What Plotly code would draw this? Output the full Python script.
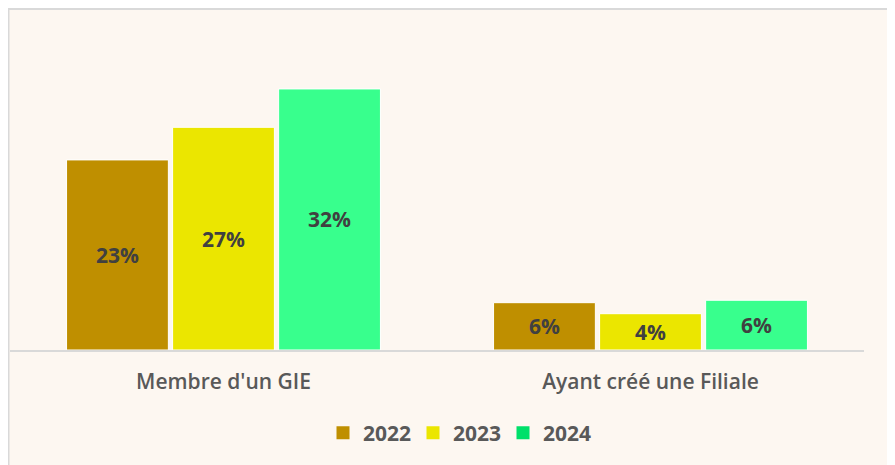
import plotly.graph_objects as go

categories = ["Membre d'un GIE", "Ayant créé une Filiale"]
years = ["2022", "2023", "2024"]
values_2022 = [23.3, 5.8]
values_2023 = [27.3, 4.45]
values_2024 = [32.0, 6.1]
bar_colors = ["#BF8F00", "#EBE600", "#38FF8D"]
legend_colors = ["#BF8F00", "#EBE600", "#00E06A"]

series = [values_2022, values_2023, values_2024]

FONT = "Open Sans"
W, H = 887, 457
L, R, T, B = 2, 31, 32, 115
PW, PH = W - L - R, H - T - B

fig = go.Figure()
for name, vals, col in zip(years, series, bar_colors):
    fig.add_trace(go.Bar(
        x=categories, y=vals, name=name, showlegend=False,
        marker=dict(color=col, line=dict(color="white", width=1)),
        texttemplate="%{y:.0f}%", textposition="inside", insidetextanchor="middle",
        textfont=dict(family=FONT, size=21, color="#404040", weight="bold"),
        textangle=0,
    ))
for name, col in zip(years, legend_colors):
    fig.add_trace(go.Scatter(
        x=[None], y=[None], name=name, mode="markers",
        marker=dict(symbol="square", size=13, color=col),
    ))

def px_x(p):
    return (p - L) / PW

def px_y(p):
    return (T + PH - p) / PH

fig.add_shape(type="rect", xref="paper", yref="paper",
              x0=px_x(0.5), x1=px_x(W + 20), y0=px_y(H + 20), y1=px_y(1),
              fillcolor="#FDF7F1", line=dict(color="#D9D9D9", width=2), layer="below")

fig.update_layout(
    width=W, height=H,
    margin=dict(l=L, r=R, t=T, b=B),
    paper_bgcolor="white", plot_bgcolor="rgba(0,0,0,0)",
    barmode="group", bargap=0.255, bargroupgap=0.04,
    uniformtext=dict(minsize=10, mode="show"),
    showlegend=True,
    legend=dict(orientation="h", x=px_x(450), xanchor="center", y=px_y(425), yanchor="middle",
                font=dict(family=FONT, size=21, color="#595959", weight="bold"),
                bgcolor="rgba(0,0,0,0)", itemwidth=30, traceorder="normal",
                entrywidth=45, entrywidthmode="pixels"),
    xaxis=dict(showline=True, linecolor="#D9D9D9", linewidth=2, showgrid=False,
               ticks="outside", ticklen=0, tickcolor="rgba(0,0,0,0)", ticklabelstandoff=12,
               tickfont=dict(family=FONT, size=21, color="#595959", weight=600),
               fixedrange=True),
    yaxis=dict(range=[0, 38.0], visible=False, showgrid=False, zeroline=False, fixedrange=True),
)

fig.write_html("out.html")
